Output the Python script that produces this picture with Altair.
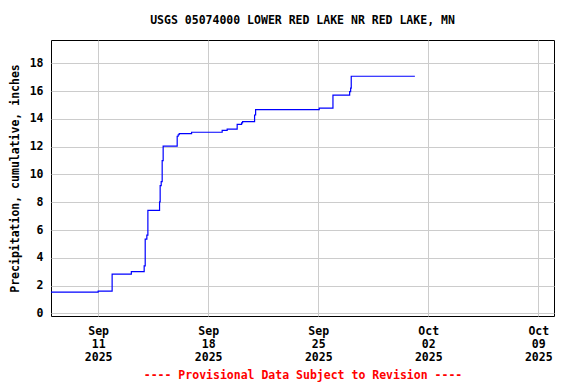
import altair as alt
import pandas as pd

times = ["2025-09-08T00:00", "2025-09-11T00:00", "2025-09-11T21:20", "2025-09-13T02:40",
         "2025-09-13T22:15", "2025-09-13T23:50", "2025-09-14T02:20", "2025-09-14T03:55",
         "2025-09-14T21:45", "2025-09-14T22:40", "2025-09-15T00:15", "2025-09-15T01:45",
         "2025-09-15T03:15", "2025-09-16T00:40", "2025-09-16T02:10", "2025-09-16T03:45",
         "2025-09-16T22:40", "2025-09-18T21:20", "2025-09-19T05:00", "2025-09-19T20:15",
         "2025-09-20T03:00", "2025-09-20T04:30", "2025-09-20T22:50", "2025-09-21T00:25",
         "2025-09-25T01:30", "2025-09-25T22:30", "2025-09-27T00:00", "2025-09-27T01:30",
         "2025-09-27T02:25", "2025-10-01T03:35"]
values = [1.53, 1.60, 2.82, 3.00, 3.42, 5.34, 5.63, 7.42, 8.02, 9.19, 9.48, 10.99,
          12.04, 12.75, 12.86, 12.94, 13.04, 13.17, 13.27, 13.61, 13.72, 13.80, 14.28,
          14.67, 14.77, 15.71, 15.96, 16.22, 17.07, 17.07]

y_ticks = [0, 2, 4, 6, 8, 10, 12, 14, 16, 18]
x_ticks = [(9, 11), (9, 18), (9, 25), (10, 2), (10, 9)]

df = pd.DataFrame({"time": times, "value": values})

FONT = "DejaVu Sans Mono"

chart = alt.Chart(df).mark_line(
    interpolate="step-after", color="#0000FF", strokeWidth=1.2, clip=True
).encode(
    x=alt.X(
        "time:T",
        scale=alt.Scale(domain=[alt.DateTime(year=2025, month=9, date=8),
                                alt.DateTime(year=2025, month=10, date=10)]),
        axis=alt.Axis(
            values=[alt.DateTime(year=2025, month=m, date=d) for m, d in x_ticks],
            labelExpr="[timeFormat(datum.value, '%b'), timeFormat(datum.value, '%d'), timeFormat(datum.value, '%Y')]",
            labelLineHeight=13,
            labelPadding=9,
            ticks=False,
            domain=False,
            title="---- Provisional Data Subject to Revision ----",
            titleColor="#FF0000",
            titlePadding=7,
        ),
    ),
    y=alt.Y(
        "value:Q",
        scale=alt.Scale(domain=[-0.19, 19.68], nice=False, zero=False),
        axis=alt.Axis(
            values=y_ticks,
            ticks=False,
            domain=False,
            labelPadding=8,
            title="Precipitation, cumulative, inches",
            titlePadding=9,
        ),
    ),
).properties(
    width=503,
    height=276,
    title=alt.Title(
        "USGS 05074000 LOWER RED LAKE NR RED LAKE, MN",
        font=FONT, fontSize=11.5, fontWeight="bold", color="#000000",
        offset=14, anchor="middle",
    ),
    padding={"left": 43, "top": 32, "right": 10, "bottom": 66},
    autosize=alt.AutoSizeParams(type="none"),
).configure(
    background="#FFFFFF"
).configure_view(
    stroke="#000000", strokeWidth=1
).configure_axis(
    labelFont=FONT, labelFontSize=11.5, labelFontWeight="bold", labelColor="#000000",
    titleFont=FONT, titleFontSize=11.5, titleFontWeight="bold", titleColor="#000000",
    gridColor="#CCCCCC", gridWidth=1, gridOpacity=1,
)

chart.save("out.html", embed_options={"renderer": "svg", "actions": False})
